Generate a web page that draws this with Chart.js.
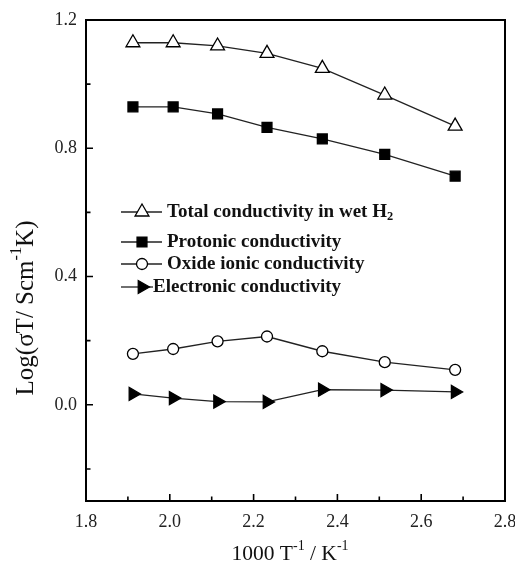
<!DOCTYPE html>
<html>
<head>
<meta charset="utf-8">
<script src="https://cdn.jsdelivr.net/npm/chart.js@4.4.0/dist/chart.umd.min.js"></script>
<style>
  body { margin: 0; background: #fff; }
  #wrap { width: 515px; height: 568px; }
</style>
</head>
<body>
<div id="wrap"><canvas id="condChart" width="515" height="568"></canvas></div>
<script>
// 1000/T values (K^-1)
const xValues = [1.912, 2.008, 2.114, 2.232, 2.364, 2.513, 2.681];
const totalCond = [1.129, 1.129, 1.119, 1.096, 1.049, 0.966, 0.869];
const protonicCond = [0.929, 0.929, 0.907, 0.865, 0.829, 0.781, 0.713];
const oxideCond = [0.159, 0.174, 0.198, 0.213, 0.167, 0.133, 0.109];
const electronicCond = [0.034, 0.021, 0.010, 0.009, 0.047, 0.046, 0.040];
const seriesLabels = ['Total conductivity in wet H₂', 'Protonic conductivity', 'Oxide ionic conductivity', 'Electronic conductivity'];

const xMajor = [1.8, 2.0, 2.2, 2.4, 2.6, 2.8];
const xMinor = [1.9, 2.1, 2.3, 2.5, 2.7];
const yMajor = [0.0, 0.4, 0.8, 1.2];
const yMinor = [-0.2, 0.2, 0.6, 1.0];

const serif = '"Liberation Serif", "Times New Roman", serif';

function pts(ys) {
    return xValues.map((x, i) => ({x: x, y: ys[i]}));
}

const lineCol = '#222';
const datasets = [
    {label: seriesLabels[0], data: pts(totalCond), pointStyle: 'triangle', pointRadius: 8, backgroundColor: '#fff', rotation: 0},
    {label: seriesLabels[1], data: pts(protonicCond), pointStyle: 'rect', pointRadius: 7, backgroundColor: '#000', rotation: 0},
    {label: seriesLabels[2], data: pts(oxideCond), pointStyle: 'circle', pointRadius: 5.5, backgroundColor: '#fff', rotation: 0},
    {label: seriesLabels[3], data: pts(electronicCond), pointStyle: 'triangle', pointRadius: 7.5, backgroundColor: '#000', rotation: 90}
].map(ds => Object.assign(ds, {
    borderColor: lineCol,
    borderWidth: 1.3,
    pointBorderColor: '#000',
    pointBackgroundColor: ds.backgroundColor,
    pointBorderWidth: 1.3,
    pointRotation: ds.rotation,
    pointHoverRadius: ds.pointRadius,
    fill: false,
    tension: 0
}));

// draw a marker like chart.js does (own copy so the legend does not depend on helpers)
function marker(ctx, ds, x, y) {
    ctx.save();
    ctx.fillStyle = ds.pointBackgroundColor;
    ctx.strokeStyle = ds.pointBorderColor;
    ctx.lineWidth = ds.pointBorderWidth;
    const r = ds.pointRadius;
    ctx.beginPath();
    if (ds.pointStyle === 'circle') {
        ctx.arc(x, y, r, 0, Math.PI * 2);
    } else if (ds.pointStyle === 'rect') {
        const s = r * Math.SQRT1_2;
        ctx.rect(x - s, y - s, 2 * s, 2 * s);
    } else {
        let a = ds.rotation * Math.PI / 180;
        for (let k = 0; k < 3; k++) {
            const px = x + Math.sin(a) * r, py = y - Math.cos(a) * r;
            if (k === 0) ctx.moveTo(px, py); else ctx.lineTo(px, py);
            a += Math.PI * 2 / 3;
        }
        ctx.closePath();
    }
    ctx.fill();
    ctx.stroke();
    ctx.restore();
}

// text with sup / sub parts
function richText(ctx, parts, x, y, size, weight) {
    let cx = x;
    parts.forEach(p => {
        const small = p.sup || p.sub;
        const fs = small ? size * 0.65 : size;
        ctx.font = weight + ' ' + fs + 'px ' + serif;
        const dy = p.sup ? -size * 0.36 : (p.sub ? size * 0.24 : 0);
        ctx.fillText(p.t, cx, y + dy);
        cx += ctx.measureText(p.t).width;
    });
    return cx - x;
}
function richWidth(ctx, parts, size, weight) {
    let w = 0;
    parts.forEach(p => {
        const fs = (p.sup || p.sub) ? size * 0.65 : size;
        ctx.font = weight + ' ' + fs + 'px ' + serif;
        w += ctx.measureText(p.t).width;
    });
    return w;
}
function splitSub(label) {
    const i = label.indexOf('₂');
    if (i < 0) return [{t: label}];
    return [{t: label.slice(0, i)}, {t: '2', sub: true}];
}

const decorations = {
    id: 'decorations',
    afterDraw(chart) {
        const {ctx, chartArea: a, scales: {x, y}} = chart;
        ctx.save();
        // frame
        ctx.strokeStyle = '#000';
        ctx.lineWidth = 2;
        ctx.strokeRect(a.left, a.top, a.right - a.left, a.bottom - a.top);
        // inward ticks on left and bottom axes
        ctx.lineWidth = 1.6;
        ctx.beginPath();
        xMajor.forEach(v => { const px = x.getPixelForValue(v); ctx.moveTo(px, a.bottom); ctx.lineTo(px, a.bottom - 7); });
        xMinor.forEach(v => { const px = x.getPixelForValue(v); ctx.moveTo(px, a.bottom); ctx.lineTo(px, a.bottom - 4.5); });
        yMajor.forEach(v => { const py = y.getPixelForValue(v); ctx.moveTo(a.left, py); ctx.lineTo(a.left + 7, py); });
        yMinor.forEach(v => { const py = y.getPixelForValue(v); ctx.moveTo(a.left, py); ctx.lineTo(a.left + 4.5, py); });
        ctx.stroke();

        // legend inside the plot
        ctx.textBaseline = 'middle';
        ctx.textAlign = 'left';
        const rows = [212, 242, 264, 287];
        chart.data.datasets.forEach((ds, i) => {
            const ry = rows[i];
            const last = i === 3;
            ctx.strokeStyle = lineCol;
            ctx.lineWidth = 1.3;
            ctx.beginPath();
            ctx.moveTo(121, ry);
            ctx.lineTo(last ? 153 : 162, ry);
            ctx.stroke();
            marker(ctx, ds, 142, ry);
            ctx.fillStyle = '#111';
            richText(ctx, splitSub(ds.label), last ? 153 : 167, ry, 19, 'bold');
        });

        // axis titles
        ctx.fillStyle = '#111';
        const xt = [{t: '1000 T'}, {t: '-1', sup: true}, {t: ' / K'}, {t: '-1', sup: true}];
        const xw = richWidth(ctx, xt, 21.5, 'normal');
        richText(ctx, xt, 290 - xw / 2, 554, 21.5, 'normal');

        const yt = [{t: 'Log(σT/ Scm'}, {t: '-1', sup: true}, {t: 'K)'}];
        const yw = richWidth(ctx, yt, 25, 'normal');
        ctx.translate(26, 308);
        ctx.rotate(-Math.PI / 2);
        richText(ctx, yt, -yw / 2, 0, 25, 'normal');
        ctx.restore();
    }
};

const ctx = document.getElementById('condChart').getContext('2d');
const condChart = new Chart(ctx, {
    type: 'line',
    data: {datasets: datasets},
    options: {
        responsive: false,
        animation: false,
        layout: {padding: {left: 0, top: 20, right: 10, bottom: 0}},
        plugins: {legend: {display: false}, tooltip: {enabled: false}},
        scales: {
            x: {
                type: 'linear',
                min: 1.8,
                max: 2.8,
                afterBuildTicks: s => { s.ticks = xMajor.map(v => ({value: v})); },
                afterFit: s => { s.height = 67; s.paddingLeft = 0; s.paddingRight = 0; },
                grid: {display: false, drawTicks: false},
                border: {display: false},
                ticks: {
                    padding: 10,
                    color: '#222',
                    font: {family: serif, size: 18},
                    callback: v => v.toFixed(1)
                }
            },
            y: {
                type: 'linear',
                min: -0.3,
                max: 1.2,
                afterBuildTicks: s => { s.ticks = yMajor.map(v => ({value: v})); },
                afterFit: s => { s.width = 86; s.paddingTop = 0; s.paddingBottom = 0; },
                grid: {display: false, drawTicks: false},
                border: {display: false},
                ticks: {
                    padding: 9,
                    color: '#222',
                    font: {family: serif, size: 18},
                    callback: v => v.toFixed(1)
                }
            }
        }
    },
    plugins: [decorations]
});
</script>
</body>
</html>
